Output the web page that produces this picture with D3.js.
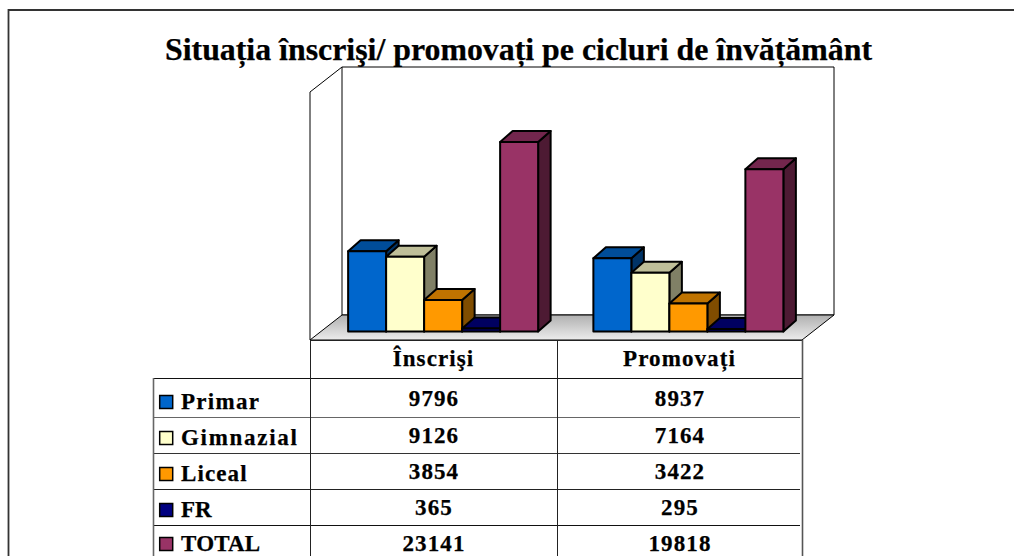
<!DOCTYPE html>
<html><head><meta charset="utf-8">
<script src="https://cdnjs.cloudflare.com/ajax/libs/d3/7.8.5/d3.min.js"></script>
<style>html,body{margin:0;padding:0;background:#fff;overflow:hidden}svg{display:block}
text{font-family:"Liberation Serif",serif;font-weight:bold;fill:#000;stroke:#000;stroke-width:.25px}</style></head><body>
<svg id="c" width="1014" height="556"></svg>
<script>
const chartTitle = "Situația înscrişi/ promovați pe cicluri de învățământ";
const categories = ["Înscrişi", "Promovați"];
const seriesNames = ["Primar", "Gimnazial", "Liceal", "FR", "TOTAL"];
const inscrisi = [9796, 9126, 3854, 365, 23141];
const promovati = [8937, 7164, 3422, 295, 19818];
const seriesColors = ["#0066cc", "#ffffcc", "#ff9900", "#000080", "#993366"];

const svg = d3.select("#c");
const defs = svg.append("defs");
const g = defs.append("linearGradient").attr("id","floor").attr("x1",0).attr("y1",0).attr("x2",0).attr("y2",1);
g.append("stop").attr("offset",0).attr("stop-color","#b0b0b0");
g.append("stop").attr("offset",1).attr("stop-color","#ececec");

// frame
svg.append("path").attr("d","M1014,10H8.5V556").attr("fill","none").attr("stroke","#333").attr("stroke-width",1.8);

// title
svg.append("text").attr("x",518.5).attr("y",60).attr("text-anchor","middle")
  .attr("font-size",31.85).text(chartTitle);

// walls
const dx = 32, dy = 25, wl = 310, wr = 802, wb = 340, wt = 92;
svg.append("path").attr("d",`M${wl},${wb}V${wt}L${wl+dx},${wt-dy}H${wr+dx}V${wb-dy}H${wl+dx}V${wt-dy}`)
  .attr("fill","#fff").attr("stroke","#000").attr("stroke-width",1);
svg.append("path").attr("d",`M${wl},${wb}L${wl+dx},${wb-dy}H${wr+dx}L${wr},${wb}Z`)
  .attr("fill","url(#floor)").attr("stroke","#000").attr("stroke-width",1);

// scales
const y = d3.scaleLinear().domain([0,30000]).range([331.5,85.8]);
const x0 = d3.scaleBand().domain(categories).range([320.5,811]);
const groupW = 190;
const x1 = d3.scaleBand().domain(seriesNames).range([0,groupW]);
const color = d3.scaleOrdinal().domain(seriesNames).range(seriesColors);
const values = [inscrisi, promovati];
const ddx = 12.5, ddy = 11;

categories.forEach((cat,ci)=>{
  const gx = x0(cat) + (x0.bandwidth()-groupW)/2;
  seriesNames.forEach((s,si)=>{
    const xa = gx + x1(s), xb = xa + x1.bandwidth(), yt = y(values[ci][si]), yb = y(0);
    const c = d3.color(color(s));
    const shade = k => d3.rgb(c.r*k,c.g*k,c.b*k).formatHex();
    const b = svg.append("g").attr("stroke","#000").attr("stroke-width",2).attr("stroke-linejoin","round");
    b.append("path").attr("d",`M${xb},${yb}V${yt}L${xb+ddx},${yt-ddy}V${yb-ddy}Z`).attr("fill",shade(0.5));
    b.append("path").attr("d",`M${xa},${yt}L${xa+ddx},${yt-ddy}H${xb+ddx}L${xb},${yt}Z`).attr("fill",shade(0.75));
    b.append("rect").attr("x",xa).attr("y",yt).attr("width",xb-xa).attr("height",yb-yt).attr("fill",color(s));
  });
});

// data table
const rowY = [340,378,417,453,489,525];
const rowColor = ["#222","#111","#666","#333","#222","#111"];
const colX = [153,310,557,802];
const colColor = ["#666","#222","#222","#555"];
const lines = svg.append("g").attr("stroke-width",1);
rowY.forEach((ry,i)=>lines.append("line").attr("x1",i===0?310:153).attr("x2",i<2?802:800).attr("y1",ry+.5).attr("y2",ry+.5).attr("stroke",rowColor[i]));
colX.forEach((cx,i)=>lines.append("line").attr("x1",cx+.5).attr("x2",cx+.5).attr("y1",i===0?378:340).attr("y2",556)
  .attr("stroke",colColor[i]).attr("stroke-width",i===0||i===3?1.6:1));

const spaced = (sel)=>sel.attr("font-size",23).attr("letter-spacing","1.1px");
const valueY = [406,443,479,515,551];
categories.forEach((cat,ci)=>{
  const cx = (colX[ci+1]+colX[ci+2])/2;
  spaced(svg.append("text")).attr("x",cx).attr("y",366).attr("text-anchor","middle").text(cat);
  seriesNames.forEach((s,si)=>{
    spaced(svg.append("text")).attr("x",cx+.5).attr("y",valueY[si]).attr("text-anchor","middle").text(values[ci][si]);
  });
});
const legendY = [409,445,481,517,551];
const legendSpacing = [1.3,1.7,1.1,0,0.2];
seriesNames.forEach((s,si)=>{
  svg.append("rect").attr("x",159.7).attr("y",legendY[si]-13.5).attr("width",13).attr("height",13)
    .attr("fill",color(s)).attr("stroke","#000").attr("stroke-width",1.5);
  svg.append("text").attr("font-size",23).attr("letter-spacing",legendSpacing[si]+"px")
    .attr("x",181).attr("y",legendY[si]).text(s);
});
</script></body></html>
